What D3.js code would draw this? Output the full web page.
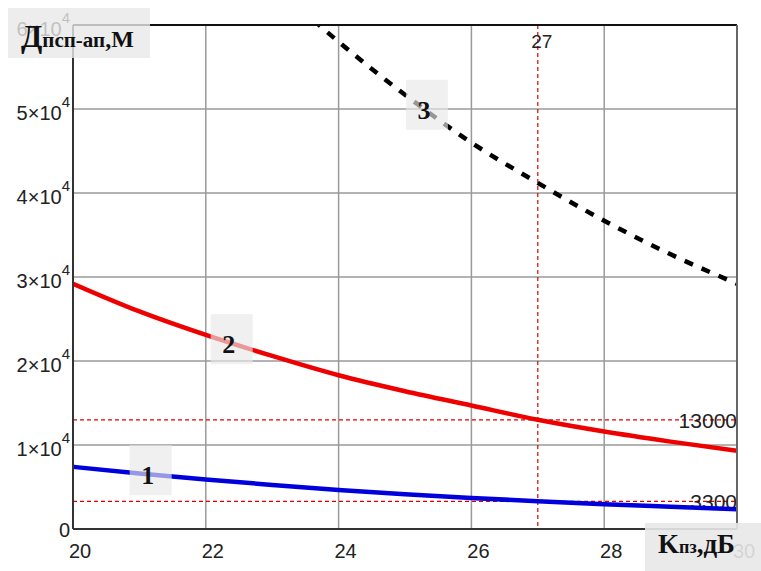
<!DOCTYPE html>
<html>
<head>
<meta charset="utf-8">
<script src="https://cdn.jsdelivr.net/npm/d3@7"></script>
<style>
  html, body { margin: 0; padding: 0; background: #fff; }
  svg { display: block; }
</style>
</head>
<body>
<svg id="chart" width="761" height="571"></svg>
<script>
// ---- data ----
const kValues   = [20, 21, 22, 23, 24, 25, 26, 27, 28, 29, 30];
const series1   = [7400, 6600, 5900, 5250, 4650, 4150, 3700, 3300, 2950, 2650, 2350];
const series2   = [29200, 25900, 23100, 20600, 18300, 16400, 14700, 13000, 11600, 10400, 9300];
const k3Values  = [23, 24, 25, 26, 27, 28, 29, 30];
const series3   = [65000, 58000, 51700, 46000, 41200, 36700, 32700, 29200];
const xTicks    = [20, 22, 24, 26, 28, 30];
const yTicks    = [0, 1, 2, 3, 4, 5, 6];        // ×10^4
const markerK   = 27;
const markerD   = [13000, 3300];
const curveLabels = [
  { text: "1", k: 21.17, d: 7000 },
  { text: "2", k: 22.39, d: 22600 },
  { text: "3", k: 25.33, d: 50500 }
];

// ---- layout ----
const svg = d3.select("#chart");
const L = 73, R = 737, T = 25, B = 529;
const x = d3.scaleLinear().domain([20, 30]).range([L, R]);
const y = d3.scaleLinear().domain([0, 60000]).range([B, T]);

svg.append("defs").append("clipPath").attr("id", "plotclip")
  .append("rect").attr("x", L).attr("y", T).attr("width", R - L).attr("height", B - T);

// grid
const grid = svg.append("g");
grid.selectAll(".gx").data(xTicks.filter(d => d > 20 && d < 30)).join("line")
  .attr("x1", d => x(d)).attr("x2", d => x(d)).attr("y1", T).attr("y2", B)
  .attr("stroke", "#9a9a9a").attr("stroke-width", 1.5);
grid.selectAll(".gy").data(yTicks.filter(d => d > 0 && d < 6)).join("line")
  .attr("x1", L).attr("x2", R).attr("y1", d => y(d * 1e4)).attr("y2", d => y(d * 1e4))
  .attr("stroke", "#9a9a9a").attr("stroke-width", 1.5);

// tick labels
const tickFont = "'Liberation Sans', Arial, sans-serif";
svg.append("g").selectAll("text").data(xTicks).join("text")
  .attr("x", d => x(d) + 7).attr("y", 558)
  .attr("text-anchor", "middle").attr("font-family", tickFont).attr("font-size", 20)
  .attr("fill", "#222").text(d => d);

const yl = svg.append("g");
yTicks.forEach(d => {
  const t = yl.append("text").attr("font-family", tickFont).attr("fill", "#222")
    .attr("text-anchor", "end");
  if (d === 0) {
    t.attr("x", 70).attr("y", y(0) + 8).attr("font-size", 20).text("0");
  } else {
    t.attr("x", 70).attr("y", y(d * 1e4) + 11).attr("font-size", 20);
    t.append("tspan").text(d + "×10");
    t.append("tspan").attr("font-size", 15).attr("dy", -13).text("4");
  }
});

// marker lines
const mk = svg.append("g");
mk.append("line").attr("x1", x(markerK)).attr("x2", x(markerK)).attr("y1", T).attr("y2", B)
  .attr("stroke", "#dd0000").attr("stroke-width", 1.2).attr("stroke-dasharray", "4,3");
mk.selectAll(".h").data(markerD).join("line")
  .attr("x1", L).attr("x2", R).attr("y1", d => y(d)).attr("y2", d => y(d))
  .attr("stroke", "#dd0000").attr("stroke-width", 1.2).attr("stroke-dasharray", "4,3");

// curves
const line = d3.line().x(d => x(d[0])).y(d => y(d[1])).curve(d3.curveMonotoneX);
const plot = svg.append("g").attr("clip-path", "url(#plotclip)");
plot.append("path").datum(kValues.map((k, i) => [k, series1[i]]))
  .attr("d", line).attr("fill", "none").attr("stroke", "#0000dd").attr("stroke-width", 4.5);
plot.append("path").datum(kValues.map((k, i) => [k, series2[i]]))
  .attr("d", line).attr("fill", "none").attr("stroke", "#ee0000").attr("stroke-width", 4.5);
plot.append("path").datum(k3Values.map((k, i) => [k, series3[i]]))
  .attr("d", line).attr("fill", "none").attr("stroke", "#000").attr("stroke-width", 4.5)
  .attr("stroke-dasharray", "9,9.5");

// marker value labels
mk.append("text").attr("x", x(markerK) + 4).attr("y", 48).attr("text-anchor", "middle")
  .attr("font-family", tickFont).attr("font-size", 19).attr("fill", "#222").text(markerK);
mk.selectAll(".lbl").data(markerD).join("text")
  .attr("x", R).attr("y", d => y(d) + 8).attr("text-anchor", "end")
  .attr("font-family", tickFont).attr("font-size", 21).attr("fill", "#222")
  .text(d => d);

// frame
svg.append("line").attr("x1", L).attr("x2", R).attr("y1", T).attr("y2", T)
  .attr("stroke", "#111").attr("stroke-width", 2);
svg.append("line").attr("x1", R).attr("x2", R).attr("y1", T).attr("y2", B)
  .attr("stroke", "#666").attr("stroke-width", 2);
svg.append("line").attr("x1", L).attr("x2", L).attr("y1", T).attr("y2", B)
  .attr("stroke", "#333").attr("stroke-width", 2);
svg.append("line").attr("x1", L).attr("x2", R).attr("y1", B).attr("y2", B)
  .attr("stroke", "#333").attr("stroke-width", 2);

// curve number labels
const serif = "'Liberation Serif', 'Times New Roman', serif";
curveLabels.forEach(c => {
  const cx = x(c.k), cy = y(c.d);
  svg.append("rect").attr("x", cx - 21).attr("y", cy - 25).attr("width", 42).attr("height", 50)
    .attr("fill", "#e8e8e8").attr("opacity", 0.65);
  svg.append("text").attr("x", cx - 3).attr("y", cy + 14).attr("text-anchor", "middle")
    .attr("font-family", serif).attr("font-weight", "bold").attr("font-size", 26)
    .attr("fill", "#111").text(c.text);
});

// axis title boxes
svg.append("rect").attr("x", 8).attr("y", 8).attr("width", 142).attr("height", 50)
  .attr("fill", "#e8e8e8").attr("opacity", 0.8);
const yt = svg.append("text").attr("x", 21).attr("y", 47)
  .attr("font-family", serif).attr("font-weight", "bold").attr("fill", "#111");
yt.append("tspan").attr("font-size", 31).text("Д");
yt.append("tspan").attr("font-size", 21).text("псп-ап");
yt.append("tspan").attr("font-size", 24).text(",М");

svg.append("rect").attr("x", 645).attr("y", 523).attr("width", 116).attr("height", 48)
  .attr("fill", "#e8e8e8").attr("opacity", 0.9);
const xt = svg.append("text").attr("x", 658).attr("y", 553)
  .attr("font-family", serif).attr("font-weight", "bold").attr("fill", "#111");
xt.append("tspan").attr("font-size", 27).text("K");
xt.append("tspan").attr("font-size", 18).text("пз");
xt.append("tspan").attr("font-size", 27).text(",дБ");
</script>
</body>
</html>
